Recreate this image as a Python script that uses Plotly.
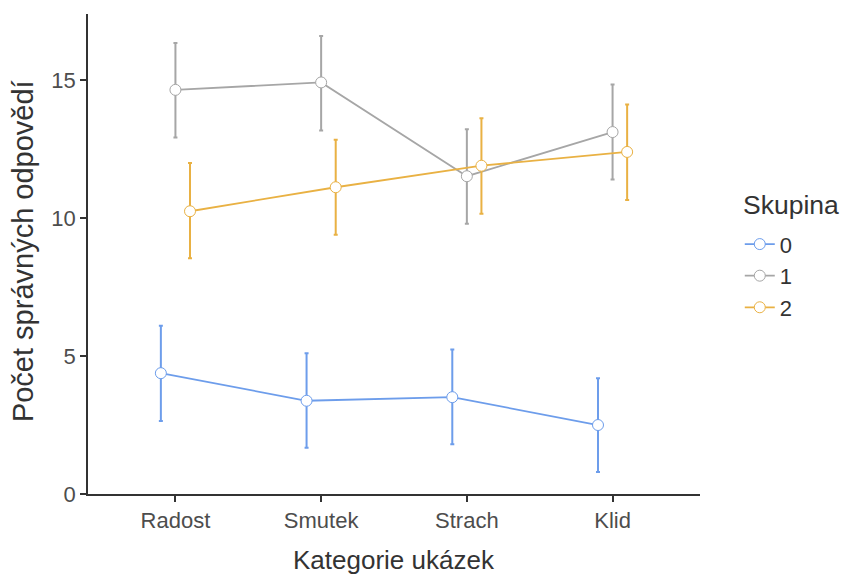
import plotly.graph_objects as go

categories = ["Radost", "Smutek", "Strach", "Klid"]
groups = ["0", "1", "2"]
means_0 = [4.38, 3.38, 3.51, 2.50]
lower_0 = [2.65, 1.68, 1.80, 0.80]
upper_0 = [6.10, 5.10, 5.24, 4.20]
means_1 = [14.65, 14.92, 11.52, 13.12]
lower_1 = [12.92, 13.18, 9.80, 11.40]
upper_1 = [16.35, 16.60, 13.22, 14.84]
means_2 = [10.25, 11.12, 11.90, 12.40]
lower_2 = [8.55, 9.40, 10.16, 10.66]
upper_2 = [12.00, 12.84, 13.62, 14.12]
colors = ["#6d9deb", "#a6a6a6", "#e9b143"]
dodge = [-0.1, 0.0, 0.1]

series = [(means_0, lower_0, upper_0), (means_1, lower_1, upper_1), (means_2, lower_2, upper_2)]

fig = go.Figure()
for g, (m, lo, up), c, d in zip(groups, series, colors, dodge):
    xs = [i + 1 + d for i in range(len(categories))]
    fig.add_trace(go.Scatter(
        x=xs, y=m, name=g, mode="lines+markers",
        line=dict(color=c, width=1.8),
        marker=dict(size=11, color="white", line=dict(color=c, width=1)),
        error_y=dict(type="data", symmetric=False,
                     array=[u - v for u, v in zip(up, m)],
                     arrayminus=[v - l for v, l in zip(m, lo)],
                     color=c, thickness=2, width=2),
    ))

font_family = "Liberation Sans, Arial, sans-serif"
fig.update_layout(
    width=842, height=576,
    margin=dict(l=88, r=142, t=14, b=82, autoexpand=False),
    plot_bgcolor="white", paper_bgcolor="white",
    font=dict(family=font_family, color="#333333"),
    xaxis=dict(
        range=[0.4, 4.6], tickvals=[1, 2, 3, 4], ticktext=categories,
        showline=True, linecolor="#333333", linewidth=1.5,
        ticks="outside", ticklen=6, tickwidth=1.5, tickcolor="#333333",
        showgrid=False, zeroline=False, automargin=False,
        tickfont=dict(size=22, color="#4d4d4d"),
    ),
    yaxis=dict(
        range=[0, 17.4], tickvals=[0, 5, 10, 15],
        showline=True, linecolor="#333333", linewidth=1.5,
        ticks="outside", ticklen=6, tickwidth=1.5, tickcolor="#333333",
        showgrid=False, zeroline=False, automargin=False,
        tickfont=dict(size=22, color="#4d4d4d"),
    ),
    legend=dict(
        font=dict(size=22, color="#333333"),
        x=1.065, xanchor="left", y=0.564, yanchor="top",
        bgcolor="rgba(0,0,0,0)",
    ),
    annotations=[
        dict(text="Kategorie ukázek", xref="paper", yref="paper", x=0.5, y=-0.138,
             xanchor="center", yanchor="middle", showarrow=False,
             font=dict(size=26, color="#333333")),
        dict(text="Počet správných odpovědí", xref="paper", yref="paper", x=-0.107, y=0.505,
             xanchor="center", yanchor="middle", showarrow=False, textangle=-90,
             font=dict(size=29, color="#333333")),
        dict(text="Skupina", xref="paper", yref="paper", x=1.067, y=0.602,
             xanchor="left", yanchor="middle", showarrow=False,
             font=dict(size=26.5, color="#333333")),
    ],
)

fig.write_html("out.html", config={"displayModeBar": False},
               post_script="document.body.style.margin='0';")
